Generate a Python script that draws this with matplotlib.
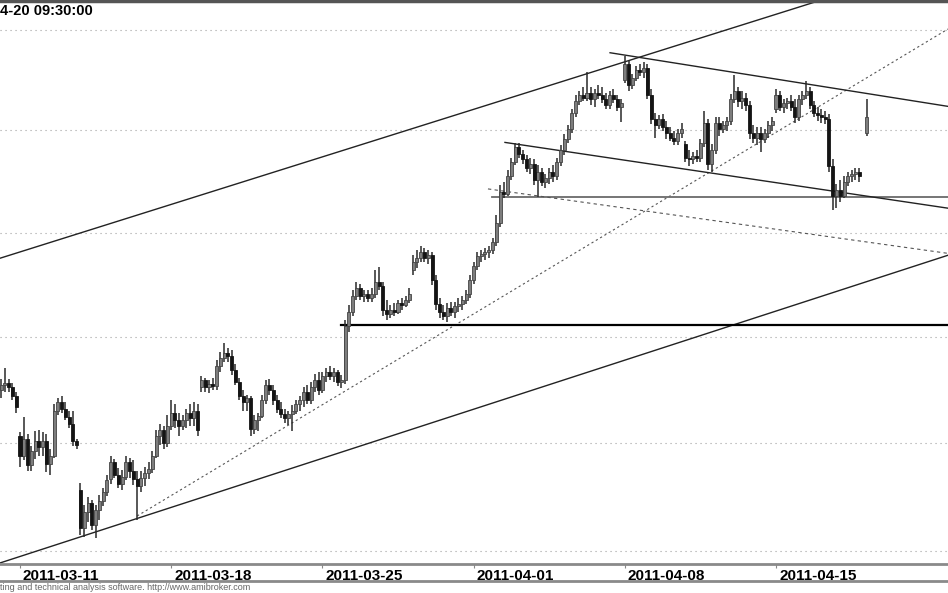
import numpy as np
import matplotlib
matplotlib.use('Agg')
import matplotlib.pyplot as plt
from matplotlib.lines import Line2D
from matplotlib.ticker import FixedLocator, NullLocator
from matplotlib.transforms import ScaledTranslation

plt.rcParams['font.family'] = ['Liberation Sans', 'DejaVu Sans']

# hourly sessions, 8 bars a day
days = ['2011-03-10', '2011-03-11', '2011-03-14', '2011-03-15', '2011-03-16', '2011-03-17',
        '2011-03-18', '2011-03-21', '2011-03-22', '2011-03-23', '2011-03-24', '2011-03-25',
        '2011-03-28', '2011-03-29', '2011-03-30', '2011-03-31', '2011-04-01', '2011-04-04',
        '2011-04-05', '2011-04-06', '2011-04-07', '2011-04-08', '2011-04-11', '2011-04-12',
        '2011-04-13', '2011-04-14', '2011-04-15', '2011-04-18', '2011-04-19', '2011-04-20']
hours = ['09:30', '10:30', '11:30', '12:30', '13:30', '14:30', '15:30', '16:30']
first_slot = 3  # view opens on 2011-03-10 12:30
label_days = ['2011-03-11', '2011-03-18', '2011-03-25', '2011-04-01', '2011-04-08', '2011-04-15']
nan = np.nan

opens = [
    2675, 2677, 2678, 2676, 2672,
    2653, 2644, 2652, 2639.5, 2646.4, 2651, 2648, 2651,
    2640, 2644, 2665, 2669, 2666, 2662, 2659, 2651,
    2628, 2610.6, 2618, 2622, 2612, 2619, 2623, 2627,
    2633, 2641, 2635, 2631, 2634, 2641, 2637, 2633,
    2630, 2633.5, 2636, 2638, 2644, 2653, 2656, 2650,
    2658, 2664, 2660.5, 2658, 2660.5, 2664, 2661.5, 2665,
    2676, 2679.5, 2676, 2677.6, 2676.7, 2686, 2690, 2692.4,
    2691, 2684.3, 2678.6, 2672, 2669, 2671, 2656.7, 2660.5,
    2662.4, 2670, 2677, 2675, 2670, 2666, 2663.4, 2661.5,
    2663.4, 2665, 2668, 2670, 2674, 2670, 2676, 2679.5,
    2675, 2681.5, 2683.4, 2681.5, 2683.4, 2678.6, 2679.5, 2705.3,
    2712, 2719.5, 2723.4, 2719.5, 2720.5, 2718.6, 2720.5, 2726.2,
    2724.3, 2712.9, 2711, 2712.9, 2712, 2716, 2715, 2717.6,
    2731.9, 2735.7, 2737.6, 2740.5, 2737.6, 2739, 2727.2, 2715.7,
    2712, 2710, 2713.8, 2712, 2714.8, 2715.7, 2717.6, 2720.5,
    2727.2, 2733.8, 2738.6, 2739.5, 2740.5, 2741.4, 2745.3, 2754.9,
    2769.8, 2768.8, 2777.7, 2784.7, 2791.6, 2788.6, 2785.7, 2781.7,
    2783.7, 2775.7, 2779.7, 2774.8, 2776.7, 2779.7, 2777.7, 2784.7,
    2790.6, 2795.6, 2800.5, 2808.4, 2814.4, 2817.3, 2816.3, 2818.3,
    2815.4, 2818.3, 2817.3, 2815.4, 2812.4, 2817.3, 2815.4, 2811.4,
    2825.2, 2833.2, 2822.3, 2826.2, 2830.2, 2829.2, 2831.2, 2817.3,
    2805.5, 2802.5, 2805.5, 2801.5, 2798.5, 2796.5, 2794.6, 2798.5,
    2793.1, 2786.6, 2785.7, 2787.6, 2786.6, 2793.6, 2803.5, 2783.7,
    2790.6, 2803.5, 2800.5, 2802.5, 2804.5, 2815.4, 2819.3, 2814.4,
    2816.3, 2812.4, 2798.5, 2796.5, 2798.5, 2795.6, 2798.5, 2802.5,
    2810.4, 2817.3, 2811.4, 2813.4, 2814.4, 2811.4, 2806.4, 2815.4,
    2817.3, 2819.3, 2812.4, 2808.4, 2807.4, 2806.4, 2805.5, 2782.7,
    2767.8, 2770.8, 2767.8, 2774.8, 2777.7, 2778.7, 2779.7, nan,
    2798.5,
]
highs = [
    2680, 2685, 2680, 2678, 2674,
    2655, 2662, 2654, 2648.7, 2655.7, 2656, 2655, 2654,
    2647, 2668, 2671, 2672, 2669, 2665, 2665, 2652,
    2631.2, 2621.2, 2624.8, 2623.4, 2621, 2625.7, 2629, 2634.9,
    2644.1, 2642.7, 2638.1, 2637.2, 2644, 2643, 2642, 2637,
    2637, 2639, 2641, 2646, 2656, 2659, 2658, 2663,
    2670, 2668, 2664, 2663, 2666, 2668, 2669, 2668,
    2681.5, 2680.5, 2679.5, 2680.5, 2689, 2693, 2697, 2694.8,
    2693.8, 2687, 2680.5, 2675, 2672.4, 2672, 2663, 2664,
    2672.4, 2679.5, 2680, 2677, 2672.4, 2669, 2666, 2665,
    2667.6, 2670, 2672, 2676, 2677, 2678.6, 2682.4, 2683.4,
    2683.4, 2685.3, 2686.2, 2685.3, 2684.3, 2682, 2708, 2715.3,
    2722.4, 2726, 2725.3, 2722.4, 2722.4, 2723.4, 2732, 2733.4,
    2726.2, 2717.6, 2715.3, 2716, 2717.6, 2718.6, 2719.5, 2723.4,
    2739, 2741.4, 2743.8, 2742.4, 2741.4, 2740.5, 2729.5, 2718.6,
    2715.3, 2716, 2716.7, 2716.7, 2718.6, 2719.5, 2722.4, 2729.5,
    2735.7, 2740.5, 2741.4, 2742.4, 2743.4, 2747.2, 2758.4, 2773.3,
    2774.8, 2780.7, 2786.6, 2794, 2793.6, 2790.6, 2788.1, 2786.6,
    2785.7, 2783.2, 2781.7, 2778.7, 2781.7, 2783.2, 2786.6, 2792.6,
    2798, 2802.5, 2810.4, 2817.3, 2819.3, 2821.3, 2829.2, 2821.3,
    2820.3, 2822.3, 2821.3, 2818.3, 2819.3, 2820.3, 2817.3, 2815.4,
    2837.1, 2835.1, 2828.2, 2832.2, 2833.2, 2834.2, 2833.2, 2820.3,
    2808.4, 2807.4, 2807.9, 2804.5, 2801.5, 2799.5, 2800.5, 2803.5,
    2794.6, 2790.6, 2789.6, 2790.6, 2795.6, 2809.4, 2805.5, 2793.1,
    2806.4, 2806.4, 2804.5, 2806.4, 2817.8, 2827.7, 2821.3, 2819.3,
    2818.3, 2814.4, 2802.5, 2801.5, 2801.5, 2800.5, 2804.5, 2806.4,
    2820.3, 2819.3, 2815.4, 2816.3, 2817.3, 2815.4, 2817.3, 2819.3,
    2824.3, 2821.3, 2814.4, 2811.4, 2810.4, 2809.4, 2807.9, 2785.7,
    2773.8, 2775.7, 2777.7, 2779.7, 2780.7, 2781.7, 2781.7, nan,
    2815.4,
]
lows = [
    2671, 2674, 2674, 2670, 2664,
    2638.6, 2642, 2637, 2637, 2642.7, 2644, 2644, 2636.3,
    2635, 2643, 2663, 2664, 2660.5, 2657, 2648.7, 2647,
    2607.4, 2606.4, 2613.3, 2609.7, 2606, 2614.3, 2620.7, 2625.3,
    2630.8, 2633.5, 2628.9, 2628, 2632.6, 2633.5, 2630.3, 2614.3,
    2627, 2630, 2633, 2636, 2643, 2649, 2647, 2648,
    2656, 2657, 2653, 2656, 2657, 2658, 2658, 2653,
    2674, 2674, 2673.4, 2675, 2675, 2683.4, 2688, 2688,
    2682, 2677, 2670, 2665, 2665, 2653.4, 2654, 2655.7,
    2661.5, 2668, 2672.4, 2667.6, 2664, 2661.5, 2659.5, 2658.6,
    2655.7, 2663.4, 2665, 2667, 2668, 2668, 2674, 2672.4,
    2673.4, 2678.6, 2679.5, 2678.6, 2676.7, 2675.7, 2677.6, 2702.4,
    2710, 2717.6, 2717.6, 2716.7, 2716.7, 2716.7, 2718.6, 2722.4,
    2710, 2708, 2709, 2710, 2711, 2712.9, 2714, 2716,
    2729.5, 2733, 2735.7, 2735.7, 2734.8, 2724.8, 2712.9, 2709,
    2708, 2707.2, 2710, 2709, 2712, 2712.9, 2715.7, 2718.6,
    2725.3, 2731.9, 2735.7, 2736.7, 2737.6, 2739.5, 2743.4, 2753,
    2766.8, 2767.8, 2775.7, 2783.2, 2786.6, 2783.7, 2779.7, 2778.7,
    2773.3, 2767.3, 2772.8, 2771.8, 2773.8, 2774.8, 2775.7, 2782.7,
    2788.1, 2793.6, 2798.5, 2806.4, 2812.4, 2814.4, 2814.4, 2812.4,
    2811.4, 2815.4, 2813.4, 2810.4, 2810.4, 2813.4, 2809.4, 2804,
    2823.3, 2819.3, 2820.3, 2824.3, 2827.2, 2826.2, 2815.4, 2803,
    2796.5, 2800.5, 2799.5, 2795.6, 2794.6, 2792.6, 2792.6, 2796.5,
    2784.7, 2782.7, 2783.7, 2784.7, 2784.7, 2791.6, 2780.7, 2779.7,
    2788.6, 2797.5, 2798.5, 2799.5, 2802.5, 2813.4, 2811.4, 2810.4,
    2809.4, 2795.6, 2793.6, 2792.6, 2789.6, 2793.6, 2796.5, 2799.5,
    2808.4, 2809.4, 2808.4, 2810.4, 2809.4, 2803.5, 2804.5, 2812.4,
    2815.4, 2810.4, 2806.4, 2804.5, 2803.5, 2803, 2779.7, 2760.9,
    2761.9, 2764.9, 2766.8, 2772.8, 2774.8, 2775.7, 2774.8, nan,
    2797.5,
]
closes = [
    2677, 2678, 2676, 2672, 2667,
    2644, 2652, 2639.5, 2646.4, 2651, 2648, 2651, 2640,
    2644, 2665, 2669, 2666, 2662, 2659, 2651, 2649,
    2610.6, 2618, 2622, 2612, 2619, 2623, 2627, 2632.6,
    2641, 2635, 2631, 2634, 2641, 2637, 2633, 2630,
    2633.5, 2636, 2638, 2644, 2653, 2656, 2650, 2658,
    2664, 2660.5, 2658, 2660.5, 2664, 2661.5, 2665, 2656,
    2679.5, 2676, 2677.6, 2676.7, 2686, 2690, 2692.4, 2691,
    2684.3, 2678.6, 2672, 2669, 2671, 2656.7, 2660.5, 2662.4,
    2670, 2677, 2675, 2670, 2666, 2663.4, 2661.5, 2663.4,
    2665, 2668, 2670, 2674, 2670, 2676, 2679.5, 2675,
    2681.5, 2683.4, 2681.5, 2683.4, 2678.6, 2679.5, 2705.3, 2712,
    2719.5, 2723.4, 2719.5, 2720.5, 2718.6, 2720.5, 2726.2, 2724.3,
    2712.9, 2711, 2712.9, 2712, 2716, 2715, 2717.6, 2720.5,
    2735.7, 2737.6, 2740.5, 2737.6, 2739, 2727.2, 2715.7, 2712,
    2710, 2713.8, 2712, 2714.8, 2715.7, 2717.6, 2720.5, 2727.2,
    2733.8, 2738.6, 2739.5, 2740.5, 2741.4, 2745.3, 2754.9, 2769.8,
    2768.8, 2777.7, 2784.7, 2791.6, 2788.6, 2785.7, 2781.7, 2783.7,
    2775.7, 2779.7, 2774.8, 2776.7, 2779.7, 2777.7, 2784.7, 2790.6,
    2795.6, 2800.5, 2808.4, 2814.4, 2817.3, 2816.3, 2818.3, 2815.4,
    2818.3, 2817.3, 2815.4, 2812.4, 2817.3, 2815.4, 2811.4, 2813.4,
    2833.2, 2822.3, 2826.2, 2830.2, 2829.2, 2831.2, 2817.3, 2805.5,
    2802.5, 2805.5, 2801.5, 2798.5, 2796.5, 2794.6, 2798.5, 2800.5,
    2786.6, 2785.7, 2787.6, 2786.6, 2793.6, 2803.5, 2783.7, 2790.6,
    2803.5, 2800.5, 2802.5, 2804.5, 2815.4, 2819.3, 2814.4, 2816.3,
    2812.4, 2798.5, 2796.5, 2798.5, 2795.6, 2798.5, 2802.5, 2804.5,
    2817.3, 2811.4, 2813.4, 2814.4, 2811.4, 2806.4, 2815.4, 2817.3,
    2819.3, 2812.4, 2808.4, 2807.4, 2806.4, 2805.5, 2782.7, 2767.8,
    2770.8, 2767.8, 2774.8, 2777.7, 2778.7, 2779.7, 2777.7, nan,
    2806.4,
]

# hand-drawn study lines: (slot, price) -> (slot, price)
study_lines = [
    ((0, 2736.1), (240.8, 2877.6), 'channel'),
    ((0, 2593.0), (253.5, 2739.1), 'channel'),
    ((39, 2616.1), (253.5, 2850.5), 'dotted'),
    ((93, 2705.7), (253.5, 2705.7), 'level'),
    ((132.9, 2767.3), (253.5, 2767.3), 'level2'),
    ((131.8, 2771.3), (253.5, 2740.0), 'dashed'),
    ((136.3, 2794.1), (253.5, 2761.9), 'channel'),
    ((164.1, 2838.6), (253.5, 2811.9), 'channel'),
]
grid_prices = [2600, 2650, 2700, 2750, 2800, 2850]

o = np.array(opens, float)
h = np.array(highs, float)
l = np.array(lows, float)
c = np.array(closes, float)
x = first_slot + np.arange(len(c))
ok = ~np.isnan(c)
up = ok & (c >= o)
dn = ok & (c < o)

fig = plt.figure(figsize=(9.48, 5.93), dpi=100)
ax = fig.add_axes([0, 29 / 593, 1, 563 / 593])
ax.set_yscale('log')

ax.vlines(x[ok], l[ok], h[ok], color='#2a2a2a', lw=1.1, zorder=3)
ax.bar(x[up], c[up] - o[up], bottom=o[up], width=0.8, color='#7d7d7d',
       edgecolor='#444444', lw=0.6, zorder=4)
ax.bar(x[dn], o[dn] - c[dn], bottom=c[dn], width=0.8, color='#141414',
       edgecolor='#141414', lw=0.6, zorder=4)

styles = {
    'channel': dict(color='#222222', lw=1.0, ls='-'),
    'dotted': dict(color='#555555', lw=0.8, ls=(0, (2, 2.5))),
    'level': dict(color='#000000', lw=1.6, ls='-'),
    'level2': dict(color='#6a6a6a', lw=1.3, ls='-'),
    'dashed': dict(color='#555555', lw=0.8, ls=(0, (3, 3))),
}
for (x0, y0), (x1, y1), kind in study_lines:
    ax.plot([x0, x1], [y0, y1], zorder=2, **styles[kind])

ax.set_xlim(2.71, 253.5)
ax.set_ylim(2594.05, 2864.6)

ax.yaxis.set_major_locator(FixedLocator(grid_prices))
ax.yaxis.set_minor_locator(NullLocator())
ax.tick_params(axis='y', which='both', length=0, labelleft=False, labelright=False)
ax.grid(axis='y', color='#a0a0a0', lw=0.8, ls=(0, (1, 3.5)))
ax.set_axisbelow(True)

tick_pos = [days.index(d) * len(hours) for d in label_days]
ax.set_xticks(tick_pos)
ax.set_xticklabels(label_days, fontsize=11, fontweight='bold')
ax.tick_params(axis='x', direction='out', length=3, width=0.8, color='#888888', pad=0.5)
shift = ScaledTranslation(3 / 100, 0, fig.dpi_scale_trans)
for lbl in ax.get_xticklabels():
    lbl.set_horizontalalignment('left')
    lbl.set_transform(lbl.get_transform() + shift)

for side in ['left', 'right']:
    ax.spines[side].set_visible(False)
ax.spines['top'].set_color('#555555')
ax.spines['top'].set_linewidth(2.5)
ax.spines['bottom'].set_color('#8a8a8a')
ax.spines['bottom'].set_linewidth(2)

fig.add_artist(Line2D([0, 1], [12 / 593, 12 / 593], color='#8a8a8a', lw=2,
                      transform=fig.transFigure))

fig.text(0, 1 - 11 / 593, '4-20 09:30:00', fontsize=10.5, fontweight='bold',
         ha='left', va='center')
fig.text(0, 1 - 588 / 593, 'ting and technical analysis software. http://www.amibroker.com',
         fontsize=6.5, color='#666666', ha='left', va='center')

fig.savefig('out.png', dpi=100)
